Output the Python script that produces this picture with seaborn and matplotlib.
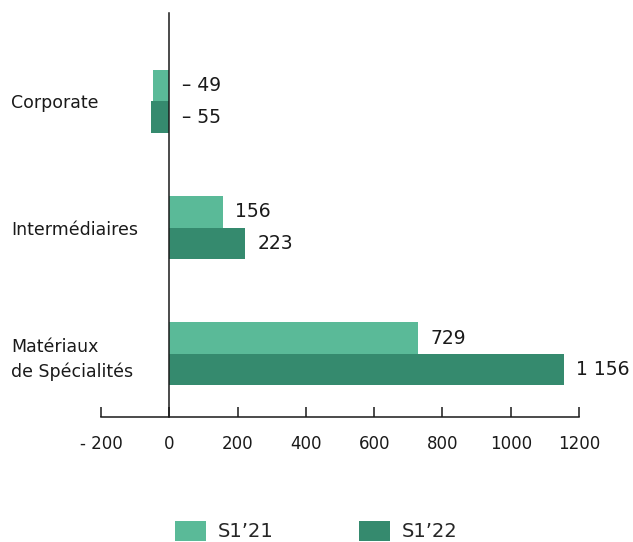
import pandas as pd
import matplotlib
matplotlib.use('Agg')
import matplotlib.pyplot as plt
import seaborn as sns
from matplotlib.patches import Patch

# chart values
segments = ['Corporate', 'Intermédiaires', 'Matériaux\nde Spécialités']
periods = ['S1\u201921', 'S1\u201922']
values_s1_21 = [-49, 156, 729]
values_s1_22 = [-55, 223, 1156]
value_labels_21 = ['\u2013 49', '156', '729']
value_labels_22 = ['\u2013 55', '223', '1 156']
x_ticks = [-200, 0, 200, 400, 600, 800, 1000, 1200]
x_tick_labels = ['- 200', '0', '200', '400', '600', '800', '1000', '1200']
colors = ['#5aba98', '#358a6e']

df = pd.DataFrame({
    'segment': segments * 2,
    'period': [periods[0]] * 3 + [periods[1]] * 3,
    'value': values_s1_21 + values_s1_22,
})

sns.set_style('white')
plt.rcParams['font.family'] = ['DejaVu Sans']

fig = plt.figure(figsize=(6.33, 5.42), dpi=100)
ax = fig.add_axes([101 / 633, 1 - 417 / 542, 478 / 633, 404 / 542])

sns.barplot(data=df, x='value', y='segment', hue='period', orient='h',
            palette=colors, width=0.5, ax=ax, legend=False, saturation=1,
            linewidth=0, edgecolor='none')

ax.set_xlim(-200, 1200)
ax.set_ylim(2.5, -0.7)

# value labels, about 13 px right of the bar end (or of the axis for negatives)
for vals, labs, off in [(values_s1_21, value_labels_21, -0.125),
                        (values_s1_22, value_labels_22, 0.125)]:
    for i, (v, lab) in enumerate(zip(vals, labs)):
        ax.annotate(lab, (max(v, 0), i + off), xytext=(9, 0),
                    textcoords='offset points', va='center', ha='left',
                    fontsize=13.5, color='#1a1a1a', annotation_clip=False)

# spines
for s in ['top', 'right']:
    ax.spines[s].set_visible(False)
ax.spines['left'].set_position(('data', 0))
for s in ['left', 'bottom']:
    ax.spines[s].set_color('#1a1a1a')
    ax.spines[s].set_linewidth(1.1)

ax.set_xticks(x_ticks)
ax.set_xticklabels(x_tick_labels)
ax.tick_params(axis='x', bottom=True, direction='in', length=7, width=1.1,
               color='#1a1a1a', pad=13, labelsize=12, labelcolor='#1a1a1a')
ax.tick_params(axis='y', left=False, length=0, pad=114, labelsize=12.5,
               labelcolor='#1a1a1a')
ax.set_yticks(range(len(segments)))
ax.set_yticklabels(segments, ha='left', linespacing=1.45)
ax.set_xlabel('')
ax.set_ylabel('')

# legend at the bottom
handles = [Patch(facecolor=c, edgecolor='none') for c in colors]
fig.legend(handles, periods, loc='center', bbox_to_anchor=(0.5, 0.02),
           ncol=2, frameon=False, fontsize=14, handlelength=1.6,
           handleheight=1.2, handletextpad=0.6, columnspacing=4.4)

fig.savefig('out.png', dpi=100)
